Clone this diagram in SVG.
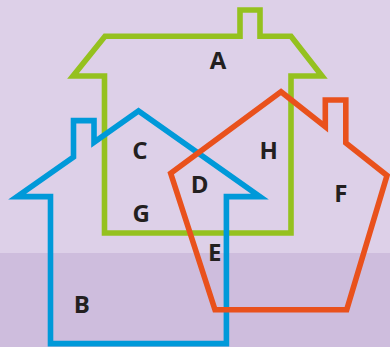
<svg xmlns="http://www.w3.org/2000/svg" width="390" height="347" viewBox="0 0 390 347">
<style>
.h{fill:none;stroke-width:5.6;stroke-linejoin:miter;stroke-miterlimit:10}
.l{font-family:"Open Sans","Liberation Sans",sans-serif;font-weight:bold;font-size:24px;fill:#231f20;text-anchor:middle}
</style>
<rect x="0" y="0" width="390" height="347" fill="#ddd0e8"/>
<rect x="0" y="253" width="390" height="94" fill="#cebddd"/>
<g id="green-house">
<path class="h" stroke="#95c11f" d="M104.5,233 V76 H73 L105,36.3 H240 V10 H260 V36.3 H291 L322,76 H291 V233 Z"/>
</g>
<g id="blue-house">
<path class="h" stroke="#0099d9" d="M50.5,343.6 V196.6 H17 L73.5,157 V120.6 H94 V142.4 L138.5,111 L260,196.6 H226.4 V343.6 Z"/>
</g>
<g id="orange-house">
<path class="h" stroke="#e9511c" d="M281,91.7 L325.3,126.8 V100 H345.8 V143 L387,175.5 L346.7,309.8 H215 L170.7,173.3 Z"/>
</g>
<g id="labels">
<text class="l" x="218" y="69.3">A</text>
<text class="l" x="140" y="159">C</text>
<text class="l" x="268.8" y="159.3">H</text>
<text class="l" x="199.7" y="193.3">D</text>
<text class="l" x="340.8" y="202">F</text>
<text class="l" x="141.3" y="222">G</text>
<text class="l" x="214.8" y="260.7">E</text>
<text class="l" x="81.8" y="312.7">B</text>
</g>
</svg>
